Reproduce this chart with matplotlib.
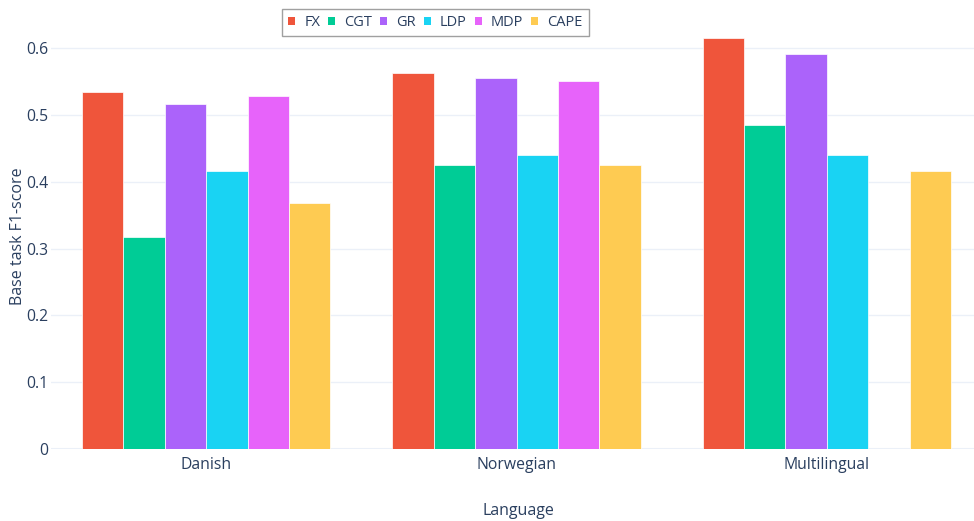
import matplotlib
matplotlib.use("Agg")
import matplotlib.pyplot as plt
import numpy as np
from matplotlib.patches import Patch

plt.rcParams['font.family'] = ['Open Sans', 'DejaVu Sans']

languages = ["Danish", "Norwegian", "Multilingual"]
methods = ["FX", "CGT", "GR", "LDP", "MDP", "CAPE"]
colors = ["#EF553B", "#00CC96", "#AB63FA", "#19D3F3", "#E763FA", "#FECB52"]
scores = {
    "FX":   [0.534, 0.563, 0.615],
    "CGT":  [0.317, 0.425, 0.485],
    "GR":   [0.516, 0.555, 0.591],
    "LDP":  [0.416, 0.440, 0.440],
    "MDP":  [0.528, 0.551, np.nan],
    "CAPE": [0.368, 0.425, 0.416],
}
yticks = [0, 0.1, 0.2, 0.3, 0.4, 0.5, 0.6]
ytick_labels = ["0", "0.1", "0.2", "0.3", "0.4", "0.5", "0.6"]

W, H = 974, 521
fig = plt.figure(figsize=(W / 100, H / 100), dpi=100)
left, right, top, bottom = 51, 974, 17, 449
ax = fig.add_axes([left / W, 1 - bottom / H, (right - left) / W, (bottom - top) / H])

text_color = "#2a3f5f"
grid_color = "#EBF0F8"

x = np.arange(len(languages))
n = len(methods)
group_w = 0.8
bw = group_w / n
for i, (m, c) in enumerate(zip(methods, colors)):
    offs = -group_w / 2 + bw * (i + 0.5)
    ax.bar(x + offs, scores[m], width=bw, color=c, edgecolor="white",
           linewidth=0.5, zorder=3)

ax.set_xlim(-0.5, -0.5 + 3 * (right - left) / (982 - left))
ax.set_ylim(0, 0.6 * (bottom - top) / (bottom - 48))
ax.set_yticks(yticks)
ax.set_yticklabels(ytick_labels)
ax.set_xticks(x)
ax.set_xticklabels(languages)

for s in ax.spines.values():
    s.set_visible(False)
ax.grid(axis="y", color=grid_color, linewidth=1, zorder=0)
ax.axhline(0, color=grid_color, linewidth=1.5, zorder=1)
ax.tick_params(axis="both", length=0, colors=text_color, labelsize=11.3)
ax.tick_params(axis="y", pad=2)
ax.tick_params(axis="x", pad=6)

fig.text(518 / W, 1 - 511 / H, "Language", color=text_color, fontsize=11.5,
         ha="center", va="center")
fig.text(18 / W, 1 - 236 / H, "Base task F1-score", color=text_color,
         fontsize=11.5, ha="center", va="center", rotation=90)

handles = [Patch(facecolor=c, edgecolor="none") for c in colors]
leg = fig.legend(handles, methods, loc="upper left",
                 bbox_to_anchor=(282 / W, 1 - 9 / H), ncol=6,
                 frameon=True, fontsize=10.5, handlelength=0.5, handleheight=0.5,
                 handletextpad=0.6, columnspacing=0.55, borderpad=0.42,
                 borderaxespad=0, fancybox=False, labelcolor=text_color)
leg.get_frame().set_edgecolor("#888888")
leg.get_frame().set_linewidth(1)

fig.savefig("out.png", dpi=100, facecolor="white")
